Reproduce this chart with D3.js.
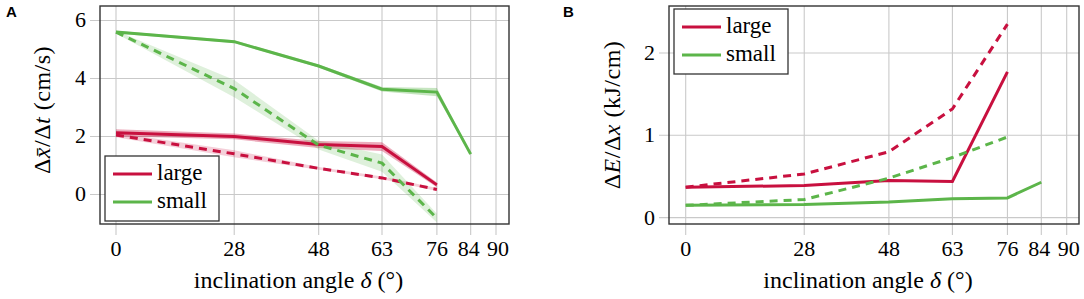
<!DOCTYPE html>
<html>
<head>
<meta charset="utf-8">
<script src="https://cdn.jsdelivr.net/npm/d3@7"></script>
<style>
  body { margin: 0; background: #fff; }
  svg { display: block; }
</style>
</head>
<body>
<div id="chart"></div>
<script>
// shared x values (inclination angle, degrees)
const angles = [0, 28, 48, 63, 76, 84];
const xTicks = [0, 28, 48, 63, 76, 84, 90];
const seriesNames = ["large", "small"];

// panel A: velocity (cm/s)
const velLargeSolid = [2.13, 2.0, 1.72, 1.65, 0.33];
const velLargeSolidErr = [0.12, 0.1, 0.12, 0.15, 0.08];
const velLargeDashed = [2.05, 1.4, 0.9, 0.57, 0.17];
const velLargeDashedErr = [0.08, 0.12, 0.05, 0.05, 0.05];
const velSmallSolid = [5.6, 5.27, 4.43, 3.63, 3.53, 1.39];
const velSmallSolidErr = [0.05, 0.05, 0.05, 0.08, 0.14, 0.03];
const velSmallDashed = [5.6, 3.65, 1.7, 1.08, -0.82];
const velSmallDashedErr = [0.05, 0.3, 0.15, 0.3, 0.15];
const velTicks = [0, 2, 4, 6];

// panel B: energy (kJ/cm)
const enLargeSolid = [0.37, 0.39, 0.45, 0.44, 1.77];
const enLargeDashed = [0.37, 0.53, 0.8, 1.32, 2.35];
const enSmallSolid = [0.15, 0.16, 0.19, 0.23, 0.24, 0.43];
const enSmallDashed = [0.15, 0.22, 0.48, 0.73, 0.98];
const enTicks = [0, 1, 2];

const red = "#c8103f";
const green = "#5cb54a";
const serif = "'Liberation Serif', 'Times New Roman', 'DejaVu Serif', serif";

const svg = d3.select("#chart").append("svg")
    .attr("width", 1084)
    .attr("height", 299)
    .style("font-family", serif);

function toPoints(vals, errs) {
    return vals.map((v, i) => ({x: angles[i], y: v, e: errs ? errs[i] : 0}));
}

function drawPanel(p) {
    const g = svg.append("g");
    const x = d3.scaleLinear().domain([0, 90]).range([p.x0, p.x90]);
    const y = d3.scaleLinear().domain(p.yDomain).range([p.bottom, p.top]);

    // grid + outward ticks
    g.selectAll(".gx").data(xTicks).join("line")
        .attr("x1", d => x(d)).attr("x2", d => x(d))
        .attr("y1", p.top).attr("y2", p.bottom + 11)
        .attr("stroke", "#c9c9c9").attr("stroke-width", 1.1);
    g.selectAll(".gy").data(p.yTicks).join("line")
        .attr("x1", p.left - 10).attr("x2", p.right)
        .attr("y1", d => y(d)).attr("y2", d => y(d))
        .attr("stroke", "#c9c9c9").attr("stroke-width", 1.1);

    // tick labels
    g.selectAll(".tx").data(xTicks).join("text")
        .attr("x", d => x(d) + (d === 84 ? -2 : d === 90 ? 2 : 0))
        .attr("y", p.bottom + 32)
        .attr("text-anchor", "middle")
        .style("font-size", "22px")
        .text(d => d);
    g.selectAll(".ty").data(p.yTicks).join("text")
        .attr("x", p.left - 14)
        .attr("y", d => y(d) + 7)
        .attr("text-anchor", "end")
        .style("font-size", "22px")
        .text(d => d);

    // bands
    const area = d3.area().x(d => x(d.x)).y0(d => y(d.y - d.e)).y1(d => y(d.y + d.e));
    p.series.filter(s => s.errs).forEach(s => {
        g.append("path").datum(toPoints(s.vals, s.errs))
            .attr("d", area)
            .attr("fill", s.color)
            .attr("opacity", s.dash ? 0.2 : 0.35);
    });

    // lines
    const line = d3.line().x(d => x(d.x)).y(d => y(d.y));
    p.series.forEach(s => {
        g.append("path").datum(toPoints(s.vals))
            .attr("d", line)
            .attr("fill", "none")
            .attr("stroke", s.color)
            .attr("stroke-width", 3)
            .attr("stroke-dasharray", s.dash ? "8,6" : null);
    });

    // frame
    g.append("rect")
        .attr("x", p.left).attr("y", p.top)
        .attr("width", p.right - p.left).attr("height", p.bottom - p.top)
        .attr("fill", "none").attr("stroke", "#333").attr("stroke-width", 1.4);

    // axis labels
    const xl = g.append("text")
        .attr("x", (p.left + p.right) / 2 - 6)
        .attr("y", 288)
        .attr("text-anchor", "middle")
        .style("font-size", "24px");
    xl.append("tspan").text("inclination angle ");
    xl.append("tspan").style("font-style", "italic").text("δ");
    xl.append("tspan").text(" (°)");

    const yl = g.append("text")
        .attr("transform", `translate(${p.yLabelX},${p.yLabelY}) rotate(-90)`)
        .attr("text-anchor", "middle")
        .style("font-size", "24px")
        .style("letter-spacing", "0.5px");
    p.yLabel.forEach(part => {
        yl.append("tspan").style("font-style", part[1] ? "italic" : "normal").text(part[0]);
    });

    // legend
    const lg = g.append("g");
    lg.append("rect")
        .attr("x", p.legend[0]).attr("y", p.legend[1])
        .attr("width", 114).attr("height", 65)
        .attr("fill", "#fff").attr("stroke", "#333").attr("stroke-width", 1.3);
    seriesNames.forEach((name, i) => {
        const ly = p.legend[1] + 18 + i * 28;
        lg.append("line")
            .attr("x1", p.legend[0] + 8).attr("x2", p.legend[0] + 47)
            .attr("y1", ly).attr("y2", ly)
            .attr("stroke", i === 0 ? red : green).attr("stroke-width", 3);
        lg.append("text")
            .attr("x", p.legend[0] + 52).attr("y", ly + 6)
            .style("font-size", "23px")
            .text(name);
    });

    // panel letter
    svg.append("text")
        .attr("x", p.letterX).attr("y", 17)
        .style("font-family", "'Liberation Sans', Arial, sans-serif")
        .style("font-weight", "bold")
        .style("font-size", "15px")
        .text(p.letter);
}

drawPanel({
    letter: "A", letterX: 6,
    left: 100, right: 509, top: 6, bottom: 224,
    x0: 116, x90: 496,
    yDomain: [-1.02, 6.5], yTicks: velTicks,
    yLabelX: 50, yLabelY: 110,
    yLabel: [["Δ"], ["x̄", true], ["/Δ"], ["t", true], [" (cm/s)"]],
    legend: [105, 156],
    series: [
        {vals: velLargeSolid, errs: velLargeSolidErr, color: red},
        {vals: velLargeDashed, errs: velLargeDashedErr, color: red, dash: true},
        {vals: velSmallSolid, errs: velSmallSolidErr, color: green},
        {vals: velSmallDashed, errs: velSmallDashedErr, color: green, dash: true}
    ]
});

drawPanel({
    letter: "B", letterX: 563,
    left: 669, right: 1079, top: 6, bottom: 224,
    x0: 685.7, x90: 1066.7,
    yDomain: [-0.077, 2.57], yTicks: enTicks,
    yLabelX: 620, yLabelY: 115,
    yLabel: [["Δ"], ["E", true], ["/Δ"], ["x", true], [" (kJ/cm)"]],
    legend: [674, 9],
    series: [
        {vals: enLargeSolid, color: red},
        {vals: enLargeDashed, color: red, dash: true},
        {vals: enSmallSolid, color: green},
        {vals: enSmallDashed, color: green, dash: true}
    ]
});
</script>
</body>
</html>
